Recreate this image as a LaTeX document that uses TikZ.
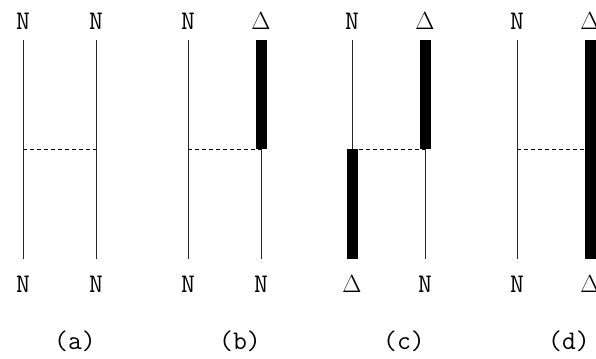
\documentclass[tikz,border=0pt]{standalone}
\usepackage{fontspec}
\begin{document}
\begin{tikzpicture}[x=1bp,y=-1bp,
  strand/.style={line width=0.9bp,black!85},
  bound/.style={line width=11bp,line cap=butt,black},
  link/.style={line width=0.8bp,dash pattern=on 4bp off 3bp},
  lab/.style={anchor=base,inner sep=0pt,font=\ttfamily\fontsize{27}{30}\selectfont},
  paneltag/.style={anchor=base,inner sep=0pt,font=\ttfamily\fontsize{27}{30}\selectfont}]
\useasboundingbox (0,0) rectangle (596,358);

% strand positions: top end, dashed-link height, bottom end
\foreach \n/\x in {a1/23,a2/96,b1/188,b2/261,c1/352,c2/425,d1/517,d2/590}{
  \coordinate (\n t) at (\x,40);
  \coordinate (\n m) at (\x,149);
  \coordinate (\n b) at (\x,259);
}

% end labels
\node[lab] (a1top) at (23,29) {N};
\node[lab] (a2top) at (96,29) {N};
\node[lab] (b1top) at (188,29) {N};
\node[lab] (b2top) at (261,29) {$\Delta$};
\node[lab] (c1top) at (352,29) {N};
\node[lab] (c2top) at (425,29) {$\Delta$};
\node[lab] (d1top) at (517,29) {N};
\node[lab] (d2top) at (590,29) {$\Delta$};

\node[lab] (a1bot) at (23,292) {N};
\node[lab] (a2bot) at (96,292) {N};
\node[lab] (b1bot) at (188,292) {N};
\node[lab] (b2bot) at (261,292) {N};
\node[lab] (c1bot) at (352,292) {$\Delta$};
\node[lab] (c2bot) at (425,292) {N};
\node[lab] (d1bot) at (517,292) {N};
\node[lab] (d2bot) at (590,292) {$\Delta$};

% dashed links
\draw[link] (a1m) -- (a2m);
\draw[link] (b1m) -- (b2m);
\draw[link] (c1m) -- (c2m);
\draw[link] (d1m) -- (d2m);

% (a)
\draw[strand] (a1t) -- (a1b);
\draw[strand] (a2t) -- (a2b);
% (b)
\draw[strand] (b1t) -- (b1b);
\draw[strand] (b2m) -- (b2b);
\draw[bound]  (b2t) -- (b2m);
% (c)
\draw[strand] (c1t) -- (c1m);
\draw[bound]  (c1m) -- (c1b);
\draw[bound]  (c2t) -- (c2m);
\draw[strand] (c2m) -- (c2b);
% (d)
\draw[strand] (d1t) -- (d1b);
\draw[bound]  (d2t) -- (d2b);

% captions
\node[paneltag] (capa) at (75,349) {(a)};
\node[paneltag] (capb) at (240,349) {(b)};
\node[paneltag] (capc) at (404,349) {(c)};
\node[paneltag] (capd) at (569,349) {(d)};
\end{tikzpicture}
\end{document}
